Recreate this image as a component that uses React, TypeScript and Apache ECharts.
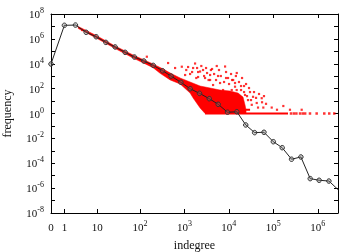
import React, { useEffect, useRef } from 'react';
import * as echarts from 'echarts';

// Log-binned indegree distribution (black line with circles)
const binIndegree = [0, 1, 2.55, 5.17, 9.38, 16.1, 26.7, 45.5, 74.2, 121.5, 198.5, 322.6, 501, 832, 1349, 2188, 3631, 5754, 9333, 15136, 23988, 38019, 61660, 100000, 158489, 257040, 416869, 676083, 1071519, 1778279, 2884031];
const binFrequency = [9550, 1.23e7, 1.29e7, 3.39e6, 1.48e6, 5.25e5, 2.24e5, 8.3e4, 3.47e4, 1.66e4, 7.4e3, 2.75e3, 1.02e3, 324, 98, 41.7, 15.5, 5.5, 1.26, 1.38, 0.12, 0.029, 0.031, 5.4e-3, 1.78e-3, 2.1e-4, 3.2e-4, 5.8e-6, 4.3e-6, 3.7e-6, 7.4e-7];

// Raw distribution (red): dense band envelope
const bandUpperIndegree = [3.1, 9.4, 26.7, 73, 197, 331, 503, 801, 1343, 2254, 3784, 6339, 10640, 16100, 20840, 23120, 24380];
const bandUpperFrequency = [9.86e6, 1.86e6, 2.67e5, 4.6e4, 9530, 3780, 1640, 714, 341, 162, 112, 77, 64, 44, 21, 4.8, 1.9];
const bandLowerIndegree = [24380, 2917, 2254, 1570, 1343, 801, 477, 283, 197, 73, 26.7, 9.4, 3.1];
const bandLowerFrequency = [1, 1, 2.8, 17.6, 44, 235, 500, 1700, 4800, 2.64e4, 1.68e5, 1.17e6, 6.8e6];

// Raw distribution (red): isolated points
const outlierIndegree = [4, 142, 429, 617, 874, 1037, 1210, 1737, 2253, 2629, 3235, 3783, 3783, 4415, 5345, 6338, 7412, 8221, 9593, 11609, 13769, 15059, 13769, 17859, 23119, 26980, 34990, 42360, 54830, 32730, 59570, 92040, 167900, 434500, 2917, 2032, 1489, 5715, 8650, 11800, 18790, 21980, 29920, 45290, 68550, 121000, 237000, 1928, 4190,
  1100, 1343, 1570, 1850, 2032, 2400, 2770, 3070, 3500, 3950, 4660, 5150, 6000, 6600, 7800, 8650, 10100, 11200, 12500, 14400, 15000, 16900, 18800, 19800, 21980, 24380, 25600, 28400, 31500, 36800, 40900, 47700, 55800, 61700];
const outlierFrequency = [5150000, 36800, 11460, 4550, 5780, 1245, 5470, 10450, 2377, 3140, 1803, 1245, 493, 195, 6580, 283, 77, 6000, 714, 77, 283, 1803, 143, 18, 31, 12, 22, 7, 17, 5, 3, 3, 4, 2, 714, 859, 2168, 1033, 2168, 493, 77, 162, 53, 3, 6, 2, 2, 4550, 3780,
  3140, 1500, 4550, 714, 2168, 6580, 1033, 4550, 493, 3140, 1500, 493, 3140, 1033, 341, 714, 235, 1500, 493, 1033, 77, 341, 162, 714, 53, 235, 25, 112, 12, 53, 18, 37, 8, 25];

// Runs of count 1 and count 2 at large indegree
const onesRunIndegree = [2917, 214000];
const onesDotIndegree = [250000, 290000, 330000, 400000, 460000, 520000, 668000, 944000, 1400000, 1810000, 2350000];
const twosRunIndegree = [2917, 30000];

const xTickIndegree = [0, 1, 10, 100, 1000, 10000, 100000, 1000000];
const xTickLabels = ['0', '1', '10', '10^2', '10^3', '10^4', '10^5', '10^6'];
const yExponentMin = -8;
const yExponentMax = 8;
const xMaxIndegree = 2850000;

const tx = (k: number) => Math.log10(k + 1);
const ty = (c: number) => Math.log10(c);

const FONT = 'Liberation Serif';

const rich = {
  b: { fontFamily: FONT, fontSize: 11, color: '#111', lineHeight: 13 },
  s: { fontFamily: FONT, fontSize: 8, color: '#111', padding: [0, 0, 7, 0], lineHeight: 13 },
};

function fmtPow(label: string) {
  if (label.startsWith('10^')) return `{b|10}{s|${label.slice(3)}}`;
  return `{b|${label}}`;
}

export default function App() {
  const ref = useRef<HTMLDivElement>(null);
  useEffect(() => {
    if (!ref.current) return;
    const chart = echarts.init(ref.current, undefined, { renderer: 'svg' });
    const xTickVals = xTickIndegree.map(tx);
    const xLabelFor = (v: number) => {
      const i = xTickVals.findIndex((t) => Math.abs(t - v) < 1e-6);
      return i >= 0 ? fmtPow(xTickLabels[i]) : '';
    };
    const xMax = tx(xMaxIndegree);
    const axisLine = { show: true, onZero: false, lineStyle: { color: '#000', width: 1 } };
    const tick = { show: true, inside: true, length: 4, lineStyle: { color: '#000', width: 1 } };

    const bandPoints = () => {
      const pts: number[][] = [];
      for (let i = 0; i < bandUpperIndegree.length; i++) pts.push([tx(bandUpperIndegree[i]), ty(bandUpperFrequency[i])]);
      for (let i = 0; i < bandLowerIndegree.length; i++) pts.push([tx(bandLowerIndegree[i]), ty(bandLowerFrequency[i])]);
      return pts;
    };

    chart.setOption({
      animation: false,
      grid: { left: 51, top: 14, right: 22, bottom: 39, containLabel: false, outerBoundsMode: 'none' },
      xAxis: [
        {
          type: 'value', min: 0, max: xMax, position: 'bottom',
          name: 'indegree', nameLocation: 'middle', nameGap: 25,
          nameTextStyle: { fontFamily: FONT, fontSize: 12, color: '#111' },
          axisLine, splitLine: { show: false },
          axisTick: { ...tick, customValues: xTickVals.slice(1) },
          axisLabel: { customValues: xTickVals, formatter: xLabelFor, rich, margin: 7 },
        },
        {
          type: 'value', min: 0, max: xMax, position: 'top',
          axisLine, splitLine: { show: false },
          axisTick: { ...tick, customValues: xTickVals.slice(1) },
          axisLabel: { show: false },
        },
      ],
      yAxis: [
        {
          type: 'value', min: yExponentMin, max: yExponentMax, interval: 1, position: 'left',
          name: 'frequency', nameLocation: 'middle', nameGap: 38,
          nameTextStyle: { fontFamily: FONT, fontSize: 12, color: '#111' },
          axisLine, splitLine: { show: false }, axisTick: tick,
          axisLabel: {
            margin: 7, rich,
            formatter: (v: number) => (Math.round(v) % 2 === 0 ? `{b|10}{s|${Math.round(v)}}` : ''),
          },
        },
        {
          type: 'value', min: yExponentMin, max: yExponentMax, interval: 1, position: 'right',
          axisLine, splitLine: { show: false }, axisTick: tick, axisLabel: { show: false },
        },
      ],
      series: [
        {
          type: 'custom', xAxisIndex: 0, yAxisIndex: 0, silent: true, clip: true,
          data: [[0, 0]], encode: { x: 0, y: 1 },
          renderItem: (_p: any, api: any) => ({
            type: 'polygon',
            shape: { points: bandPoints().map((p) => api.coord(p)) },
            style: { fill: '#ff0000', stroke: '#ff0000', lineWidth: 0.5 },
          }),
        },
        {
          type: 'line', symbol: 'none', silent: true,
          data: onesRunIndegree.map((k) => [tx(k), ty(1)]),
          lineStyle: { color: '#ff0000', width: 2.2 },
        },
        {
          type: 'line', symbol: 'none', silent: true,
          data: twosRunIndegree.map((k) => [tx(k), ty(2)]),
          lineStyle: { color: '#ff0000', width: 2 },
        },
        {
          type: 'scatter', symbol: 'rect', symbolSize: 2.5, silent: true,
          data: onesDotIndegree.map((k) => [tx(k), ty(1)]),
          itemStyle: { color: '#ff0000' },
        },
        {
          type: 'scatter', symbol: 'rect', symbolSize: 2.2, silent: true,
          data: outlierIndegree.map((k, i) => [tx(k), ty(outlierFrequency[i])]),
          itemStyle: { color: '#ff0000' },
        },
        {
          type: 'line', symbol: 'circle', symbolSize: 4.5, silent: true,
          data: binIndegree.map((k, i) => [tx(k), ty(binFrequency[i])]),
          lineStyle: { color: '#222', width: 1 },
          itemStyle: { color: 'rgba(120,120,120,0.35)', borderColor: '#333', borderWidth: 1 },
        },
      ],
    });
    return () => chart.dispose();
  }, []);
  return <div ref={ref} style={{ position: 'fixed', left: 0, top: 0, width: 360, height: 252 }} />;
}
